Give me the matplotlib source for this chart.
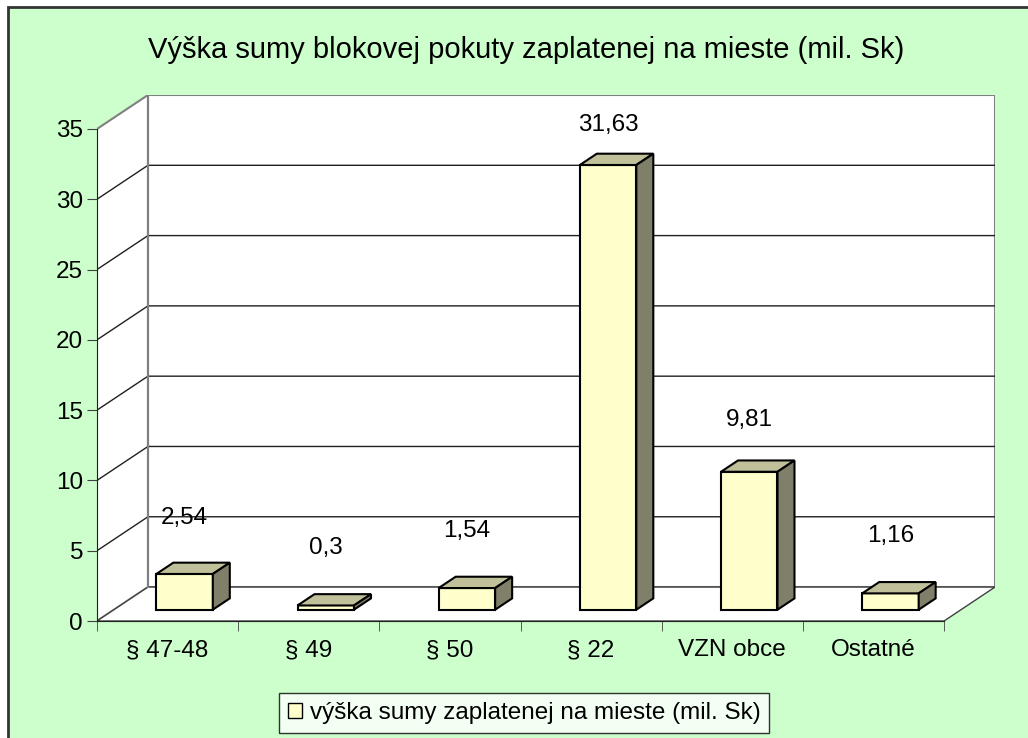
import numpy as np
import matplotlib
matplotlib.use("Agg")
from matplotlib import pyplot as plt
from matplotlib.patches import Polygon, Rectangle, Patch

categories = ["§ 47-48", "§ 49", "§ 50", "§ 22", "VZN obce", "Ostatné"]
values = [2.54, 0.3, 1.54, 31.63, 9.81, 1.16]
value_labels = ["2,54", "0,3", "1,54", "31,63", "9,81", "1,16"]
yticks = [0, 5, 10, 15, 20, 25, 30, 35]
title = "Výška sumy blokovej pokuty zaplatenej na mieste (mil. Sk)"
series_name = "výška sumy zaplatenej na mieste (mil. Sk)"

plt.rcParams['font.family'] = ['Liberation Sans', 'DejaVu Sans']

bg = "#CCFFCC"
front_col = "#FFFFCC"
top_col = "#C0C09A"
side_col = "#80806A"
wall_edge = "#808080"

n = len(categories)
ymax = 35
dx, dy = 0.361, 2.414      # depth of the 3d box, in data units
bw = 0.40                  # bar width

fig = plt.figure(figsize=(10.28, 7.38), dpi=100)
fig.patch.set_facecolor("white")
fig.patches.append(Rectangle((8 / 1028, -0.05), 1.1, 1 - 7 / 738 + 0.05,
                             transform=fig.transFigure, facecolor=bg,
                             edgecolor="#333333", linewidth=2, zorder=-10))

ax = fig.add_axes([97 / 1028, 117 / 738, 898 / 1028, 526 / 738])
ax.set_facecolor("none")
ax.set_xlim(0, n + dx)
ax.set_ylim(0, ymax + dy)

# walls and floor
ax.add_patch(Polygon([(dx, dy), (n + dx, dy), (n + dx, ymax + dy), (dx, ymax + dy)],
                     closed=True, facecolor="white", edgecolor=wall_edge, lw=1.5, zorder=1))
ax.add_patch(Polygon([(0, 0), (dx, dy), (dx, ymax + dy), (0, ymax)],
                     closed=True, facecolor="white", edgecolor=wall_edge, lw=1.5, zorder=1))
ax.add_patch(Polygon([(0, 0), (n, 0), (n + dx, dy), (dx, dy)],
                     closed=True, facecolor="white", edgecolor="#404040", lw=1, zorder=1))
for t in yticks[1:-1]:
    ax.plot([0, dx, n + dx], [t, t + dy, t + dy], color="#202020", lw=1, zorder=2)
ax.plot([dx, dx], [dy, ymax + dy], color=wall_edge, lw=1.5, zorder=2)

# bars
x = np.arange(n)
fx = x + 0.5 - bw / 2 + dx / 3
fy = dy / 3
ddx, ddy = dx / 3, dy / 3
ax.bar(fx, values, width=bw, bottom=fy, align="edge", color=front_col,
       edgecolor="black", linewidth=1.5, zorder=3)
for i, v in enumerate(values):
    top = [(fx[i], fy + v), (fx[i] + bw, fy + v),
           (fx[i] + bw + ddx, fy + v + ddy), (fx[i] + ddx, fy + v + ddy)]
    side = [(fx[i] + bw, fy), (fx[i] + bw + ddx, fy + ddy),
            (fx[i] + bw + ddx, fy + v + ddy), (fx[i] + bw, fy + v)]
    ax.add_patch(Polygon(top, closed=True, facecolor=top_col, edgecolor="black", lw=1.5, zorder=3))
    ax.add_patch(Polygon(side, closed=True, facecolor=side_col, edgecolor="black", lw=1.5, zorder=3))
    ax.text(fx[i] + bw / 2, 0.96 * v + 4.9, value_labels[i], ha="center", va="center",
            fontsize=17.5, zorder=4)

# axes
for s in ["top", "right"]:
    ax.spines[s].set_visible(False)
ax.spines["left"].set_bounds(0, ymax)
ax.spines["bottom"].set_bounds(0, n)
ax.spines["left"].set_color("#202020")
ax.spines["bottom"].set_color("#202020")
ax.spines["left"].set_zorder(5)
ax.spines["bottom"].set_zorder(5)
ax.set_yticks(yticks)
ax.set_yticklabels([str(t) for t in yticks], fontsize=17.5)
ax.set_xticks(x + 0.5)
ax.set_xticklabels(categories, fontsize=17.5)
ax.set_xticks(np.arange(n + 1), minor=True)
ax.tick_params(axis="x", which="major", length=0, pad=13)
ax.tick_params(axis="x", which="minor", length=7, color="#404040")
ax.tick_params(axis="y", length=7, color="#404040", pad=3)

fig.text(526 / 1028, 1 - 50 / 738, title, ha="center", va="center", fontsize=21)

# legend
h = Patch(facecolor=front_col, edgecolor="black", lw=1)
leg = fig.legend([h], [series_name], loc="center", bbox_to_anchor=(524 / 1028, 1 - 713 / 738),
                 fontsize=17.5, frameon=True, fancybox=False, edgecolor="black",
                 handlelength=0.6, handleheight=0.6, handletextpad=0.3, borderpad=0.35,
                 borderaxespad=0)
leg.get_frame().set_linewidth(1)

fig.savefig("out.png", dpi=100, facecolor=fig.get_facecolor())
